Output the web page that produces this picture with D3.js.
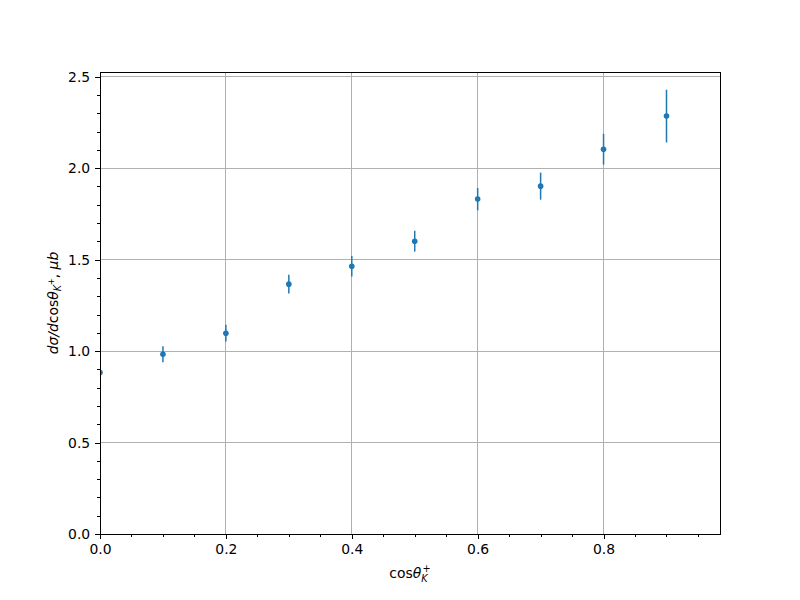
<!DOCTYPE html>
<html><head><meta charset="utf-8">
<script src="https://cdn.jsdelivr.net/npm/d3@7"></script>
<style>body{margin:0;background:#fff}text{font-family:"DejaVu Sans",sans-serif}</style>
</head><body><div id="chart"></div>
<script>
const xValues = [0.0, 0.1, 0.2, 0.3, 0.4, 0.5, 0.6, 0.7, 0.8, 0.9];
const yValues = [0.883, 0.983, 1.098, 1.366, 1.464, 1.601, 1.831, 1.902, 2.104, 2.285];
const yErrors = [0.03, 0.044, 0.046, 0.051, 0.056, 0.057, 0.061, 0.074, 0.084, 0.144];
const xMajorTicks = [0.0, 0.2, 0.4, 0.6, 0.8];
const yMajorTicks = [0.0, 0.5, 1.0, 1.5, 2.0, 2.5];
const xMinorTicks = [0.05,0.1,0.15,0.25,0.3,0.35,0.45,0.5,0.55,0.65,0.7,0.75,0.85,0.9,0.95];
const yMinorTicks = [0.1,0.2,0.3,0.4,0.6,0.7,0.8,0.9,1.1,1.2,1.3,1.4,1.6,1.7,1.8,1.9,2.1,2.2,2.3,2.4];

const W = 800, H = 600;
const m = {left: 100, right: 720, top: 72, bottom: 534};
const svg = d3.select("#chart").append("svg").attr("width", W).attr("height", H);

const x = d3.scaleLinear().domain([0, 0.985]).range([m.left, m.right]);
const y = d3.scaleLinear().domain([0, 2.526]).range([m.bottom, m.top]);

// grid
svg.append("g").attr("shape-rendering", "crispEdges").selectAll("line").data(xMajorTicks).join("line")
  .attr("x1", d => x(d)).attr("x2", d => x(d)).attr("y1", m.top).attr("y2", m.bottom)
  .attr("stroke", "#b0b0b0").attr("stroke-width", 1);
svg.append("g").attr("shape-rendering", "crispEdges").selectAll("line").data(yMajorTicks).join("line")
  .attr("y1", d => y(d)).attr("y2", d => y(d)).attr("x1", m.left).attr("x2", m.right)
  .attr("stroke", "#b0b0b0").attr("stroke-width", 1);

// data
svg.append("clipPath").attr("id", "clip").append("rect")
  .attr("x", m.left).attr("y", m.top).attr("width", m.right - m.left).attr("height", m.bottom - m.top);
const dg = svg.append("g").attr("clip-path", "url(#clip)");
const pts = xValues.map((v, i) => ({x: v, y: yValues[i], e: yErrors[i]}));
dg.selectAll("line.err").data(pts).join("line").attr("class", "err")
  .attr("x1", d => x(d.x)).attr("x2", d => x(d.x))
  .attr("y1", d => y(d.y - d.e)).attr("y2", d => y(d.y + d.e))
  .attr("stroke", "#1f77b4").attr("stroke-width", 1.5);
dg.selectAll("circle").data(pts).join("circle")
  .attr("cx", d => x(d.x)).attr("cy", d => y(d.y)).attr("r", 2.8)
  .attr("fill", "#1f77b4");

// axes
const fs = "13.9px";
const xAxis = svg.append("g").attr("transform", `translate(0,${m.bottom})`)
  .call(d3.axisBottom(x).tickValues(xMajorTicks).tickFormat(d3.format(".1f")).tickSize(4.9).tickPadding(4.9));
const xMinor = svg.append("g").attr("transform", `translate(0,${m.bottom})`)
  .call(d3.axisBottom(x).tickValues(xMinorTicks).tickFormat("").tickSize(2.8));
const yAxis = svg.append("g").attr("transform", `translate(${m.left},0)`)
  .call(d3.axisLeft(y).tickValues(yMajorTicks).tickFormat(d3.format(".1f")).tickSize(4.9).tickPadding(4.9));
const yMinor = svg.append("g").attr("transform", `translate(${m.left},0)`)
  .call(d3.axisLeft(y).tickValues(yMinorTicks).tickFormat("").tickSize(2.8));
[xAxis, xMinor, yAxis, yMinor].forEach(g => {
  g.select(".domain").remove();
  g.selectAll(".tick line").attr("stroke", "#000").attr("stroke-width", 1).attr("shape-rendering", "crispEdges");
  g.selectAll("text").attr("font-size", fs).attr("fill", "#000").attr("font-family", "DejaVu Sans");
});

// frame
svg.append("rect").attr("x", m.left).attr("y", m.top)
  .attr("width", m.right - m.left).attr("height", m.bottom - m.top)
  .attr("fill", "none").attr("stroke", "#000").attr("stroke-width", 1).attr("shape-rendering", "crispEdges");

// x label
const xl = svg.append("text").attr("x", 410).attr("y", 578).attr("text-anchor", "middle")
  .attr("font-size", fs).attr("fill", "#000");
xl.append("tspan").text("cos");
xl.append("tspan").attr("font-style", "italic").text("θ");
xl.append("tspan").attr("font-style", "italic").attr("font-size", "9.7px").attr("dy", 4).text("K");
xl.append("tspan").attr("font-size", "9.7px").attr("dy", -10).attr("dx", -5).text("+");

// y label
const yl = svg.append("text").attr("transform", `translate(58,303) rotate(-90)`)
  .attr("text-anchor", "middle").attr("font-size", fs).attr("fill", "#000");
yl.append("tspan").attr("font-style", "italic").text("dσ/d");
yl.append("tspan").text("cos");
yl.append("tspan").attr("font-style", "italic").text("θ");
yl.append("tspan").attr("font-style", "italic").attr("font-size", "9.7px").attr("dy", 3).text("K");
yl.append("tspan").attr("font-size", "8px").attr("dy", -7).text("+");
yl.append("tspan").attr("dy", 4).text(", ");
yl.append("tspan").attr("font-style", "italic").text("μb");
</script></body></html>
